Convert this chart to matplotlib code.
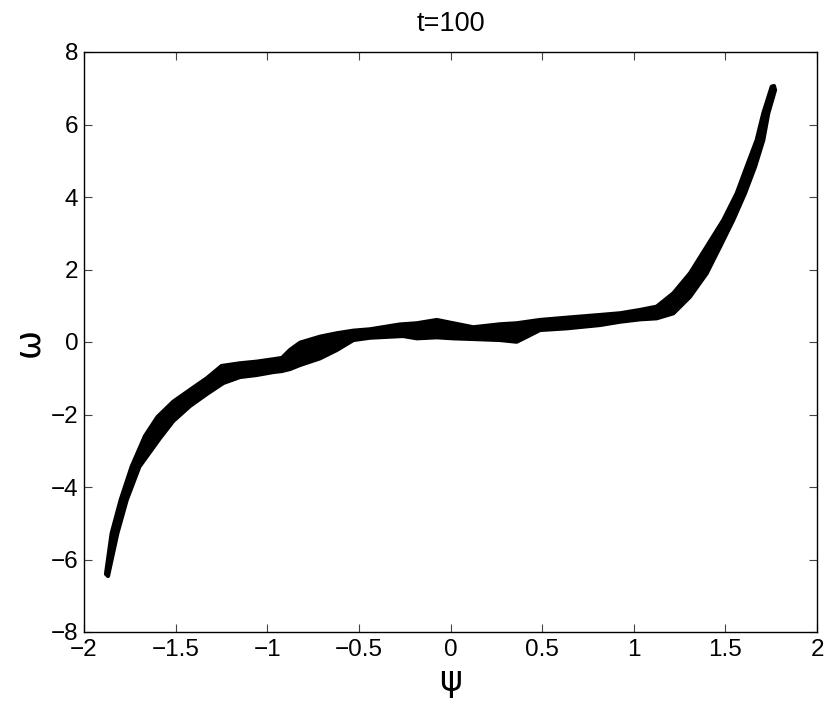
import numpy as np
import matplotlib
matplotlib.use("Agg")
import matplotlib.pyplot as plt

plt.rcParams['font.family'] = ['Liberation Sans', 'DejaVu Sans']

# Upper edge of the scatter band (psi, omega)
upper_psi = [-1.880, -1.849, -1.800, -1.740, -1.667, -1.599, -1.513, -1.422, -1.330,
             -1.249, -1.149, -1.058, -0.967, -0.920, -0.876, -0.821, -0.712, -0.621,
             -0.530, -0.439, -0.276, -0.184, -0.075, 0.015, 0.124, 0.270, 0.361, 0.488,
             0.634, 0.816, 0.925, 1.034, 1.125, 1.216, 1.307, 1.398, 1.489, 1.562,
             1.616, 1.671, 1.707, 1.753, 1.765]
upper_omega = [-6.400, -5.277, -4.359, -3.440, -2.593, -2.069, -1.647, -1.324, -1.001,
               -0.662, -0.588, -0.543, -0.477, -0.441, -0.221, -0.019, 0.146, 0.240,
               0.312, 0.350, 0.483, 0.516, 0.607, 0.516, 0.406, 0.488, 0.516, 0.607,
               0.670, 0.745, 0.792, 0.883, 0.974, 1.343, 1.895, 2.629, 3.366, 4.102,
               4.836, 5.572, 6.309, 7.043, 7.062]

# Lower edge of the scatter band
lower_psi = [-1.869, -1.818, -1.767, -1.698, -1.585, -1.513, -1.422, -1.330, -1.240,
             -1.149, -1.058, -0.967, -0.920, -0.876, -0.821, -0.712, -0.621, -0.530,
             -0.439, -0.259, -0.184, -0.075, 0.015, 0.124, 0.270, 0.361, 0.416, 0.488,
             0.634, 0.816, 0.925, 1.034, 1.125, 1.216, 1.307, 1.398, 1.471, 1.543,
             1.607, 1.662, 1.707, 1.734, 1.771]
lower_omega = [-6.455, -5.277, -4.359, -3.440, -2.648, -2.179, -1.766, -1.434, -1.131,
               -0.966, -0.910, -0.828, -0.800, -0.745, -0.634, -0.450, -0.221, 0.055,
               0.119, 0.166, 0.102, 0.130, 0.102, 0.083, 0.055, 0.008, 0.146, 0.331,
               0.378, 0.469, 0.560, 0.626, 0.654, 0.792, 1.250, 1.895, 2.629, 3.366,
               4.102, 4.836, 5.572, 6.309, 6.952]

xticks = [-2, -1.5, -1, -0.5, 0, 0.5, 1, 1.5, 2]
xtick_labels = ['\u22122', '\u22121.5', '\u22121', '\u22120.5', '0', '0.5', '1', '1.5', '2']
yticks = [-8, -6, -4, -2, 0, 2, 4, 6, 8]
ytick_labels = ['\u22128', '\u22126', '\u22124', '\u22122', '0', '2', '4', '6', '8']

fig = plt.figure(figsize=(8.3, 7.06), dpi=100)
ax = fig.add_axes([84 / 830, 1 - 632 / 706, (817 - 84) / 830, (632 - 52) / 706])

poly_x = np.concatenate([upper_psi, lower_psi[::-1]])
poly_y = np.concatenate([upper_omega, lower_omega[::-1]])
ax.fill(poly_x, poly_y, facecolor='black', edgecolor='black', linewidth=3,
        joinstyle='round')

ax.set_xlim(-2, 2)
ax.set_ylim(-8, 8)
ax.set_xticks(xticks)
ax.set_xticklabels(xtick_labels)
ax.set_yticks(yticks)
ax.set_yticklabels(ytick_labels)
ax.tick_params(direction='in', top=True, right=True, length=6, width=0.8,
               labelsize=17.5, color='#444444')
ax.tick_params(axis='x', pad=5)
ax.tick_params(axis='y', pad=4)
for s in ax.spines.values():
    s.set_linewidth(1.0)

ax.set_title('t=100', fontsize=19.5, pad=15)
ax.set_xlabel('\u03c8', fontsize=25, family=['DejaVu Sans'], labelpad=2)
ax.set_ylabel('\u03c9', fontsize=25, family=['DejaVu Sans'], labelpad=4)

fig.savefig('out.png', dpi=100)
